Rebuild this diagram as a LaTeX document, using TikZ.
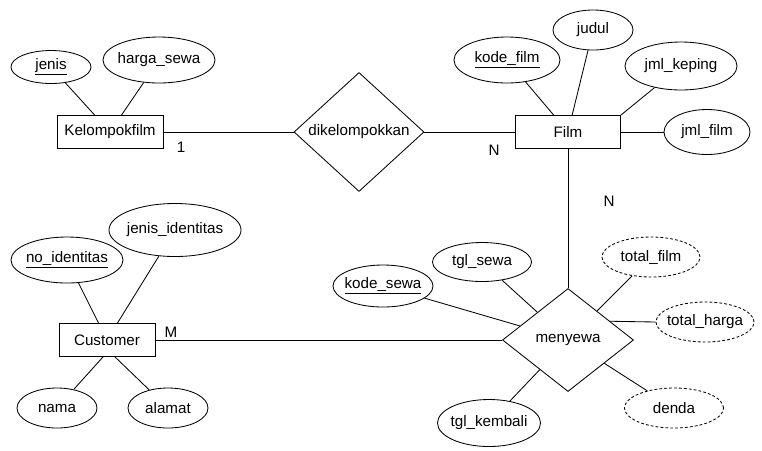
\documentclass[tikz,border=0pt]{standalone}
\usepackage{fontspec}
\setmainfont{Liberation Sans}
\usepackage{tikz}
\usetikzlibrary{shapes.geometric, positioning}

\tikzset{
  entity/.style={draw, rectangle, inner sep=0pt, minimum height=0.825cm},
  attr/.style={draw, ellipse, inner xsep=-0.2cm, inner ysep=0pt},
  derived/.style={attr, dash pattern=on 2pt off 1.5pt},
  rel/.style={draw, diamond, aspect=1.1, inner sep=0pt},
  card/.style={inner sep=0pt}
}

\begin{document}
\begin{tikzpicture}[x=0.025cm, y=-0.025cm, line width=0.6pt,
  every node/.style={font=\fontsize{10.8}{13}\selectfont}]
  \useasboundingbox (0,0) rectangle (762,450);

  % Kelompokfilm and its attributes
  \node[entity, minimum width=2.65cm] (kelompokfilm) at (110,132) {Kelompokfilm};
  \node[attr, minimum width=2.0cm, minimum height=0.825cm] (jenis) at (51,67) {\underline{jenis}};
  \node[attr, minimum width=2.8cm, minimum height=1.15cm] (hargasewa) at (159,60) {harga\_sewa};
  \draw (jenis) -- (kelompokfilm);
  \draw (hargasewa) -- (kelompokfilm);

  % relation dikelompokkan
  \node[rel, minimum width=3.25cm, minimum height=2.975cm] (dikelompokkan) at (359,132) {dikelompokkan};

  % Film and its attributes
  \node[entity, minimum width=2.625cm] (film) at (568,132) {Film};
  \node[attr, minimum width=2.65cm, minimum height=1.15cm] (kodefilm) at (507,60) {\underline{kode\_film}};
  \node[attr, minimum width=2.0cm, minimum height=1.0cm] (judul) at (593,30) {judul};
  \node[attr, minimum width=2.8cm, minimum height=1.2cm] (jmlkeping) at (681,66) {jml\_keping};
  \node[attr, minimum width=2.15cm, minimum height=1.125cm] (jmlfilm) at (707,132) {jml\_film};
  \draw (kodefilm) -- (film);
  \draw (judul) -- (film);
  \draw (jmlkeping) -- (film.north east);
  \draw (jmlfilm) -- (film);

  \draw (kelompokfilm) -- (dikelompokkan);
  \draw (dikelompokkan) -- (film);
  \node[card] (c1) at (181,147) {1};
  \node[card] (cn1) at (494,150) {N};

  % Customer and its attributes
  \node[entity, minimum width=2.4cm] (customer) at (107,340) {Customer};
  \node[attr, minimum width=2.8cm, minimum height=1.15cm] (noidentitas) at (67,260) {\underline{no\_identitas}};
  \node[attr, minimum width=3.3cm, minimum height=1.325cm] (jenisidentitas) at (175,230) {jenis\_identitas};
  \node[attr, minimum width=2.0cm, minimum height=1.0cm] (nama) at (57,408) {nama};
  \node[attr, minimum width=2.0cm, minimum height=1.0cm] (alamat) at (168,408) {alamat};
  \draw (noidentitas) -- (customer);
  \draw (jenisidentitas) -- (customer);
  \draw (nama) -- ([xshift=-0.1cm]customer.south);
  \draw (alamat) -- ([xshift=0.2cm]customer.south);

  % relation menyewa and its attributes
  \node[rel, minimum width=3.275cm, minimum height=2.575cm] (menyewa) at (568,340) {menyewa};
  \node[attr, minimum width=2.5cm, minimum height=1.05cm] (kodesewa) at (383,286) {\underline{kode\_sewa}};
  \node[attr, minimum width=2.475cm, minimum height=0.975cm] (tglsewa) at (482,262) {tgl\_sewa};
  \node[attr, minimum width=2.575cm, minimum height=1.175cm] (tglkembali) at (489,423) {tgl\_kembali};
  \node[derived, minimum width=2.45cm, minimum height=1.0cm] (totalfilm) at (651,257) {total\_film};
  \node[derived, minimum width=2.45cm, minimum height=1.0cm] (totalharga) at (705,322) {total\_harga};
  \node[derived, minimum width=2.475cm, minimum height=1.0cm] (denda) at (674,408) {denda};
  \draw (kodesewa) -- (menyewa);
  \draw (tglsewa) -- (menyewa);
  \draw (tglkembali) -- (menyewa);
  \draw (totalfilm) -- (menyewa);
  \draw (totalharga.west) -- (menyewa.24);
  \draw (denda) -- (menyewa);

  \draw (film.south) -- (menyewa.north);
  \draw (customer) -- (menyewa);
  \node[card] (cn2) at (609,201) {N};
  \node[card] (cm) at (171,332) {M};
\end{tikzpicture}
\end{document}
